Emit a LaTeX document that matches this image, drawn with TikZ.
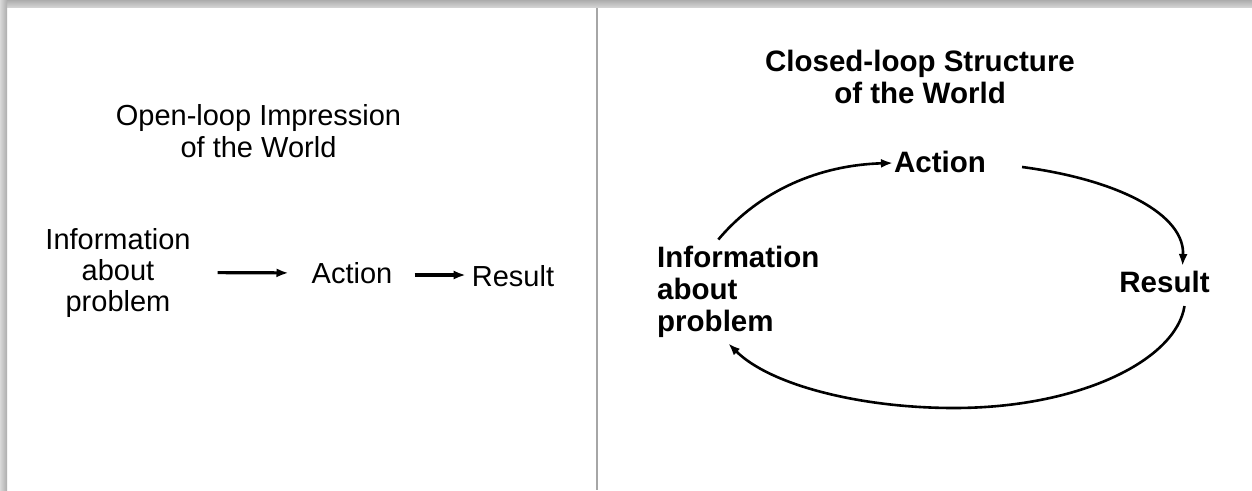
\documentclass[tikz,border=0pt]{standalone}
\usepackage{fontspec}
\setmainfont{Liberation Sans}
\usetikzlibrary{arrows.meta,calc}
\begin{document}
\begin{tikzpicture}[x=1pt,y=-1pt,
  lt/.style={inner sep=0pt, font=\fontsize{29}{31}\selectfont},
  ltt/.style={inner sep=0pt, font=\fontsize{29}{32}\selectfont},
  rt/.style={inner sep=0pt, font=\fontsize{29.5}{32}\selectfont\bfseries},
  arr/.style={line width=3.2pt, -{Latex[length=12pt,width=9pt]}},
  carr/.style={line width=2.6pt, -{Latex[length=12pt,width=9pt]}}]
\useasboundingbox (0,0) rectangle (1252,490);
\fill[white] (0,0) rectangle (1252,490);
% frame shadow
\shade[top color=gray!65, bottom color=gray!35] (0,0) rectangle (1252,7);
\shade[left color=gray!30, right color=gray!65] (0,0) rectangle (7,490);
% divider
\draw[gray!70, line width=1.5pt] (597,8) -- (597,490);

% left panel
\node[ltt, align=center] (ltitle) at (258.5,131.5) {Open-loop Impression\\of the World};
\node[lt, align=center] (linfo) at (118,272.5) {Information\\about\\problem};
\node[lt] (lact) at (352,273) {Action};
\node[lt] (lres) at (513,276.5) {Result};
\draw[arr, shorten <=27pt, shorten >=23pt] (linfo.east) -- (lact.west);
\draw[arr, shorten <=22pt, shorten >=6pt] ($(lact.east)+(0,2)$) -- ($(lres.west)+(0,-1.5)$);

% right panel
\node[rt, align=center] (rtitle) at (920,77) {Closed-loop Structure\\of the World};
\node[rt, align=left, anchor=west] (rinfo) at (657,291.5) {Information\\about\\problem};
\node[rt] (ract) at (940,162) {Action};
\node[rt] (rres) at (1164.5,282) {Result};

\draw[carr] ($(rinfo.north)+(-20,-6)$) .. controls (760,190) and (820,165) .. ($(ract.west)+(-1,1)$);
\draw[carr] ($(ract.east)+(36,5)$) .. controls (1120,180) and (1185,215) .. ($(rres.north)+(18,-5)$);
\draw[carr] ($(rres.south)+(20,13)$) .. controls (1176,360) and (1080,408) .. (954,408)
  .. controls (860,408) and (770,385) .. ($(rinfo.south)+(-10,6)$);
\end{tikzpicture}
\end{document}
